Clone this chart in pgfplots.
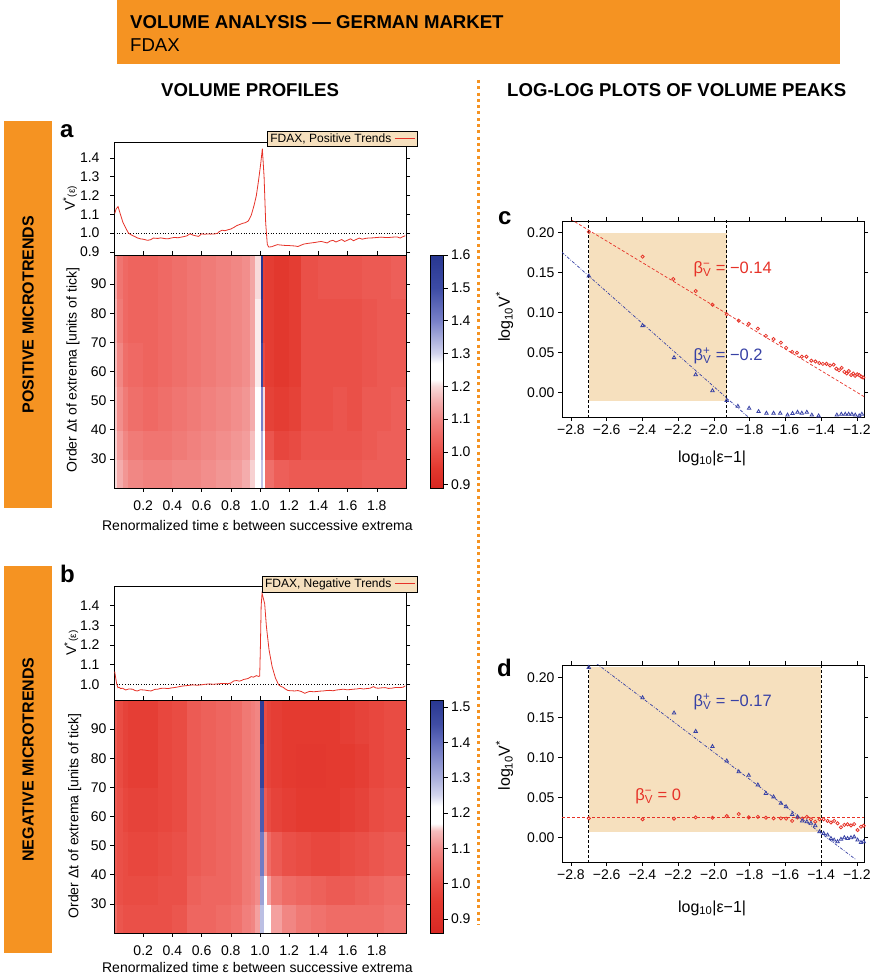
\documentclass[border=0pt]{standalone}
\usepackage{fontspec}
\setmainfont{Liberation Sans}
\usepackage{pgfplots}
\pgfplotsset{compat=1.18}

\definecolor{banner}{RGB}{245,147,34}
\definecolor{wheat}{RGB}{246,224,190}
\definecolor{lred}{RGB}{230,50,40}
\definecolor{lblue}{RGB}{55,65,165}

\newcommand\tkf{\fontsize{14}{14}\selectfont}
\newcommand\lbf{\fontsize{14}{14}\selectfont}
\newcommand\keybox[2]{\node[anchor=north east, fill=wheat, draw=black, line width=0.6pt,
  inner xsep=3pt, inner ysep=2.5pt, font=\fontsize{12}{12}\selectfont]
  at (axis description cs:1.041,#1) {#2\ \textcolor{lred}{\rule[0.28em]{20pt}{1.1pt}}};}

\pgfplotsset{
  /pgf/number format/assume math mode=true,
  every axis/.append style={scale only axis, tick align=outside, major tick length=4pt,
    tick style={black, line width=0.6pt}, axis line style={line width=0.7pt},
    tick label style={font=\tkf}, label style={font=\lbf}},
  dec1/.style={/pgf/number format/.cd, fixed, fixed zerofill, precision=1},
  dec2/.style={/pgf/number format/.cd, fixed, fixed zerofill, precision=2},
}

\begin{document}
\begin{tikzpicture}[x=1pt,y=1pt]
\path[use as bounding box] (0,0) rectangle (877,980);

% header
\fill[banner] (117,916) rectangle (840,980);
\node[anchor=base west, inner sep=0, font=\fontsize{18.6}{20}\selectfont\bfseries] at (130,951) {VOLUME ANALYSIS — GERMAN MARKET};
\node[anchor=base west, inner sep=0, font=\fontsize{18.6}{20}\selectfont] at (130,928) {FDAX};
\node[anchor=base west, inner sep=0, font=\fontsize{18.6}{20}\selectfont\bfseries] at (161,883) {VOLUME PROFILES};
\node[anchor=base west, inner sep=0, font=\fontsize{18.6}{20}\selectfont\bfseries] at (507,883) {LOG-LOG PLOTS OF VOLUME PEAKS};
\draw[banner, line width=3pt, dash pattern=on 3pt off 3.3pt] (478,900) -- (478,55);

% side bars
\fill[banner] (4,472) rectangle (52,859);
\fill[banner] (4,27) rectangle (52,414);
\node[rotate=90, font=\fontsize{16}{16}\selectfont\bfseries] at (28,665.5) {POSITIVE MICROTRENDS};
\node[rotate=90, font=\fontsize{16}{16}\selectfont\bfseries] at (28,220.5) {NEGATIVE MICROTRENDS};

% panel letters
\node[anchor=base west, inner sep=0, font=\fontsize{24}{24}\selectfont\bfseries] at (60,842) {a};
\node[anchor=base west, inner sep=0, font=\fontsize{24}{24}\selectfont\bfseries] at (60,397) {b};
\node[anchor=base west, inner sep=0, font=\fontsize{24}{24}\selectfont\bfseries] at (498,755) {c};
\node[anchor=base west, inner sep=0, font=\fontsize{24}{24}\selectfont\bfseries] at (497,303) {d};

% ---------- panel a: profile ----------
\begin{axis}[at={(114pt,725pt)}, anchor=south west, width=292pt, height=113pt,
  xmin=0, xmax=2, ymin=0.884, ymax=1.485, xtick=\empty, clip=false,
  ytick={0.9,1.0,1.1,1.2,1.3,1.4}, ytick pos=both, yticklabel pos=left,
  yticklabel style={xshift=-7pt, dec1},
  ylabel={V\textsuperscript{*}{\fontsize{10}{10}\selectfont(ε)}},
  ylabel style={at={(axis description cs:-0.151,0.5)}, anchor=center}]
\addplot[black, dotted, line width=0.7pt] coordinates {(0,1) (2,1)};
\addplot[lred, line width=0.8pt] coordinates {
(0.005,1.105) (0.015,1.13) (0.028,1.141) (0.04,1.11) (0.05,1.085) (0.06,1.06) (0.07,1.044)
(0.085,1.02) (0.1,1.0) (0.12,0.99) (0.14,0.983) (0.16,0.975) (0.18,0.97) (0.2,0.968)
(0.23,0.962) (0.25,0.965) (0.27,0.974) (0.3,0.972) (0.32,0.975) (0.35,0.971) (0.37,0.97)
(0.39,0.974) (0.41,0.977) (0.44,0.976) (0.46,0.979) (0.48,0.982) (0.5,0.986) (0.52,0.997)
(0.54,0.99) (0.56,0.986) (0.58,0.983) (0.6,0.997) (0.62,0.994) (0.64,0.996) (0.66,0.995)
(0.69,0.996) (0.71,1.0) (0.72,1.008) (0.74,1.016) (0.76,1.013) (0.78,1.018) (0.8,1.022)
(0.82,1.03) (0.84,1.04) (0.86,1.046) (0.88,1.052) (0.9,1.056) (0.92,1.065) (0.94,1.095)
(0.96,1.15) (0.975,1.2) (0.99,1.28) (1.005,1.37) (1.016,1.449) (1.028,1.30) (1.039,1.053)
(1.05,0.94) (1.06,0.926) (1.08,0.928) (1.1,0.934) (1.12,0.939) (1.14,0.937) (1.17,0.935)
(1.19,0.935) (1.215,0.933) (1.24,0.932) (1.26,0.929) (1.28,0.936) (1.3,0.942) (1.33,0.946)
(1.35,0.948) (1.38,0.951) (1.4,0.954) (1.42,0.956) (1.44,0.952) (1.46,0.948) (1.48,0.958)
(1.5,0.962) (1.52,0.953) (1.54,0.96) (1.56,0.966) (1.58,0.956) (1.6,0.963) (1.62,0.97)
(1.64,0.96) (1.66,0.967) (1.68,0.974) (1.7,0.968) (1.72,0.972) (1.74,0.974) (1.77,0.975)
(1.8,0.977) (1.83,0.979) (1.86,0.977) (1.88,0.977) (1.91,0.979) (1.94,0.98) (1.96,0.974)
(1.98,0.982) (1.995,0.986)};
\keybox{1.097}{FDAX, Positive Trends}
\end{axis}

% ---------- panel a: heat map ----------
\begin{axis}[at={(114pt,492pt)}, anchor=south west, width=292pt, height=233pt,
  xmin=0, xmax=2, ymin=20, ymax=100,
  xtick={0.2,0.4,0.6,0.8,1.0,1.2,1.4,1.6,1.8}, ytick={30,40,50,60,70,80,90},
  xticklabel style={yshift=-5pt, dec1}, axis on top,
  xlabel={Renormalized time ε between successive extrema},
  xlabel style={at={(axis description cs:0.491,-0.159)}, anchor=center},
  ylabel={Order Δt of extrema [units of tick]},
  ylabel style={at={(axis description cs:-0.140,0.506)}, anchor=center},
  colormap={cma}{rgb255(89pt)=(215,38,32) rgb255(95pt)=(226,56,46) rgb255(100pt)=(234,80,72)
    rgb255(105pt)=(239,105,100) rgb255(110pt)=(241,135,132) rgb255(115pt)=(244,172,172)
    rgb255(120pt)=(248,218,218) rgb255(122pt)=(255,255,255) rgb255(127pt)=(255,255,255)
    rgb255(130pt)=(210,212,238) rgb255(135pt)=(165,170,218) rgb255(140pt)=(120,128,200)
    rgb255(150pt)=(60,75,165) rgb255(160pt)=(40,55,145)},
  point meta min=0.89, point meta max=1.6,
  colorbar, colorbar style={at={(parent axis.north east)}, anchor=north west, xshift=16pt,
    width=13pt, ytick={0.9,1.0,1.1,1.2,1.3,1.4,1.5,1.6}, yticklabel style={dec1},
    tick align=outside, major tick length=4pt, ytick pos=right, yticklabel pos=right}]
\addplot[surf, shader=flat corner, mesh/cols=27, point meta=explicit] table[meta=c, row sep=\\] {
x y c\\
0 20 1.20\\ 0.02 20 1.15\\ 0.06 20 1.12\\ 0.1 20 1.10\\ 0.2 20 1.09\\ 0.3 20 1.09\\ 0.4 20 1.10\\ 0.5 20 1.10\\ 0.6 20 1.11\\ 0.7 20 1.12\\ 0.8 20 1.13\\ 0.88 20 1.15\\ 0.93 20 1.19\\ 0.97 20 1.24\\ 1.005 20 1.32\\ 1.025 20 1.27\\ 1.035 20 1.06\\ 1.1 20 1.03\\ 1.2 20 1.02\\ 1.28 20 1.02\\ 1.4 20 1.02\\ 1.5 20 1.02\\ 1.6 20 1.02\\ 1.7 20 1.03\\ 1.8 20 1.03\\ 1.9 20 1.03\\ 2.0 20 1.03\\
0 30 1.19\\ 0.02 30 1.13\\ 0.06 30 1.10\\ 0.1 30 1.08\\ 0.2 30 1.07\\ 0.3 30 1.07\\ 0.4 30 1.08\\ 0.5 30 1.09\\ 0.6 30 1.10\\ 0.7 30 1.11\\ 0.8 30 1.12\\ 0.88 30 1.13\\ 0.93 30 1.17\\ 0.97 30 1.23\\ 1.005 30 1.34\\ 1.025 30 1.26\\ 1.035 30 1.01\\ 1.1 30 0.98\\ 1.2 30 0.99\\ 1.28 30 1.01\\ 1.4 30 1.01\\ 1.5 30 1.01\\ 1.6 30 1.01\\ 1.7 30 1.02\\ 1.8 30 1.03\\ 1.9 30 1.03\\ 2.0 30 1.03\\
0 40 1.18\\ 0.02 40 1.11\\ 0.06 40 1.08\\ 0.1 40 1.06\\ 0.2 40 1.05\\ 0.3 40 1.06\\ 0.4 40 1.07\\ 0.5 40 1.08\\ 0.6 40 1.09\\ 0.7 40 1.10\\ 0.8 40 1.11\\ 0.88 40 1.12\\ 0.93 40 1.15\\ 0.97 40 1.22\\ 1.005 40 1.40\\ 1.025 40 1.20\\ 1.035 40 0.97\\ 1.1 40 0.96\\ 1.2 40 0.97\\ 1.28 40 1.00\\ 1.4 40 1.00\\ 1.5 40 1.01\\ 1.6 40 1.00\\ 1.7 40 1.02\\ 1.8 40 1.02\\ 1.9 40 1.03\\ 2.0 40 1.03\\
0 55 1.17\\ 0.02 55 1.10\\ 0.06 55 1.06\\ 0.1 55 1.05\\ 0.2 55 1.04\\ 0.3 55 1.05\\ 0.4 55 1.06\\ 0.5 55 1.07\\ 0.6 55 1.08\\ 0.7 55 1.09\\ 0.8 55 1.10\\ 0.88 55 1.11\\ 0.93 55 1.14\\ 0.97 55 1.21\\ 1.005 55 1.52\\ 1.025 55 0.99\\ 1.035 55 0.96\\ 1.1 55 0.95\\ 1.2 55 0.96\\ 1.28 55 1.00\\ 1.4 55 1.00\\ 1.5 55 1.00\\ 1.6 55 1.00\\ 1.7 55 1.01\\ 1.8 55 1.02\\ 1.9 55 1.02\\ 2.0 55 1.02\\
0 70 1.16\\ 0.02 70 1.08\\ 0.06 70 1.05\\ 0.1 70 1.04\\ 0.2 70 1.04\\ 0.3 70 1.05\\ 0.4 70 1.06\\ 0.5 70 1.07\\ 0.6 70 1.08\\ 0.7 70 1.09\\ 0.8 70 1.10\\ 0.88 70 1.11\\ 0.93 70 1.14\\ 0.97 70 1.21\\ 1.005 70 1.58\\ 1.025 70 0.97\\ 1.035 70 0.96\\ 1.1 70 0.95\\ 1.2 70 0.96\\ 1.28 70 1.00\\ 1.4 70 1.00\\ 1.5 70 1.00\\ 1.6 70 1.00\\ 1.7 70 1.01\\ 1.8 70 1.02\\ 1.9 70 1.02\\ 2.0 70 1.02\\
0 85 1.15\\ 0.02 85 1.07\\ 0.06 85 1.05\\ 0.1 85 1.04\\ 0.2 85 1.04\\ 0.3 85 1.05\\ 0.4 85 1.06\\ 0.5 85 1.07\\ 0.6 85 1.08\\ 0.7 85 1.09\\ 0.8 85 1.10\\ 0.88 85 1.11\\ 0.93 85 1.14\\ 0.97 85 1.20\\ 1.005 85 1.60\\ 1.025 85 0.97\\ 1.035 85 0.96\\ 1.1 85 0.95\\ 1.2 85 0.96\\ 1.28 85 1.00\\ 1.4 85 1.01\\ 1.5 85 1.01\\ 1.6 85 1.01\\ 1.7 85 1.02\\ 1.8 85 1.02\\ 1.9 85 1.03\\ 2.0 85 1.03\\
0 100 1.15\\ 0.02 100 1.07\\ 0.06 100 1.05\\ 0.1 100 1.04\\ 0.2 100 1.04\\ 0.3 100 1.05\\ 0.4 100 1.06\\ 0.5 100 1.07\\ 0.6 100 1.08\\ 0.7 100 1.09\\ 0.8 100 1.10\\ 0.88 100 1.11\\ 0.93 100 1.14\\ 0.97 100 1.20\\ 1.005 100 1.60\\ 1.025 100 0.97\\ 1.035 100 0.96\\ 1.1 100 0.95\\ 1.2 100 0.96\\ 1.28 100 1.00\\ 1.4 100 1.01\\ 1.5 100 1.01\\ 1.6 100 1.01\\ 1.7 100 1.02\\ 1.8 100 1.02\\ 1.9 100 1.03\\ 2.0 100 1.03\\
};
\end{axis}

% ---------- panel b: profile ----------
\begin{axis}[at={(114pt,280pt)}, anchor=south west, width=292pt, height=114pt,
  xmin=0, xmax=2, ymin=0.92, ymax=1.50, xtick=\empty, clip=false,
  ytick={1.0,1.1,1.2,1.3,1.4}, ytick pos=both, yticklabel pos=left,
  yticklabel style={xshift=-7pt, dec1},
  ylabel={V\textsuperscript{*}{\fontsize{10}{10}\selectfont(ε)}},
  ylabel style={at={(axis description cs:-0.147,0.5)}, anchor=center}]
\addplot[black, dotted, line width=0.7pt] coordinates {(0,1) (2,1)};
\addplot[lred, line width=0.8pt] coordinates {
(0.005,1.064) (0.012,1.03) (0.019,1.0) (0.027,0.982) (0.035,0.985) (0.045,0.978) (0.058,0.98)
(0.07,0.975) (0.08,0.971) (0.1,0.976) (0.127,0.975) (0.145,0.968) (0.16,0.966) (0.18,0.972)
(0.207,0.971) (0.23,0.968) (0.253,0.966) (0.28,0.974) (0.3,0.975) (0.32,0.979) (0.344,0.98)
(0.37,0.978) (0.39,0.981) (0.41,0.983) (0.436,0.986) (0.46,0.99) (0.482,0.992) (0.51,0.994)
(0.54,0.997) (0.57,0.995) (0.597,0.997) (0.625,1.0) (0.654,1.002) (0.68,1.0) (0.71,1.002)
(0.74,1.004) (0.78,1.003) (0.8,1.006) (0.82,1.017) (0.84,1.019) (0.86,1.016) (0.872,1.019)
(0.89,1.025) (0.906,1.027) (0.92,1.03) (0.94,1.039) (0.955,1.036) (0.975,1.044) (0.99,1.04)
(0.998,1.042) (1.003,1.2) (1.008,1.40) (1.014,1.463) (1.022,1.44) (1.032,1.41) (1.044,1.293)
(1.062,1.175) (1.083,1.09) (1.106,1.031) (1.128,0.997) (1.145,0.988) (1.158,0.985) (1.175,0.975)
(1.193,0.968) (1.215,0.967) (1.238,0.966) (1.26,0.968) (1.284,0.963) (1.307,0.954) (1.325,0.96)
(1.342,0.964) (1.365,0.962) (1.387,0.963) (1.41,0.965) (1.433,0.966) (1.455,0.968) (1.479,0.969)
(1.5,0.967) (1.525,0.971) (1.55,0.973) (1.571,0.975) (1.595,0.972) (1.617,0.973) (1.64,0.975)
(1.662,0.976) (1.685,0.979) (1.708,0.976) (1.73,0.978) (1.754,0.98) (1.777,0.988) (1.795,0.981)
(1.811,0.98) (1.835,0.982) (1.857,0.983) (1.88,0.979) (1.903,0.98) (1.93,0.984) (1.96,0.983)
(1.98,0.985) (1.995,0.992)};
\keybox{1.092}{FDAX, Negative Trends}
\end{axis}

% ---------- panel b: heat map ----------
\begin{axis}[at={(114pt,47pt)}, anchor=south west, width=292pt, height=233pt,
  xmin=0, xmax=2, ymin=20, ymax=100,
  xtick={0.2,0.4,0.6,0.8,1.0,1.2,1.4,1.6,1.8}, ytick={30,40,50,60,70,80,90},
  xticklabel style={yshift=-5pt, dec1}, axis on top,
  xlabel={Renormalized time ε between successive extrema},
  xlabel style={at={(axis description cs:0.491,-0.146)}, anchor=center},
  ylabel={Order Δt of extrema [units of tick]},
  ylabel style={at={(axis description cs:-0.134,0.502)}, anchor=center},
  colormap={cmb}{rgb255(86pt)=(215,40,35) rgb255(95pt)=(228,58,48) rgb255(100pt)=(234,80,72)
    rgb255(105pt)=(239,108,102) rgb255(110pt)=(242,140,138) rgb255(115pt)=(246,190,190)
    rgb255(117pt)=(255,255,255) rgb255(122pt)=(255,255,255) rgb255(125pt)=(212,214,238)
    rgb255(130pt)=(170,175,220) rgb255(140pt)=(100,110,190) rgb255(145pt)=(65,78,165)
    rgb255(152pt)=(40,55,145)},
  point meta min=0.86, point meta max=1.52,
  colorbar, colorbar style={at={(parent axis.north east)}, anchor=north west, xshift=16pt,
    width=13pt, ytick={0.9,1.0,1.1,1.2,1.3,1.4,1.5}, yticklabel style={dec1},
    tick align=outside, major tick length=4pt, ytick pos=right, yticklabel pos=right}]
\addplot[surf, shader=flat corner, mesh/cols=27, point meta=explicit] table[meta=c, row sep=\\] {
x y c\\
0 20 1.05\\ 0.02 20 1.01\\ 0.06 20 1.00\\ 0.1 20 1.00\\ 0.2 20 1.00\\ 0.3 20 1.00\\ 0.4 20 1.01\\ 0.5 20 1.04\\ 0.6 20 1.04\\ 0.7 20 1.05\\ 0.8 20 1.06\\ 0.88 20 1.08\\ 0.94 20 1.09\\ 0.966 20 1.12\\ 1.0 20 1.28\\ 1.027 20 1.20\\ 1.05 20 1.17\\ 1.08 20 1.12\\ 1.15 20 1.09\\ 1.25 20 1.07\\ 1.35 20 1.06\\ 1.45 20 1.05\\ 1.55 20 1.05\\ 1.65 20 1.05\\ 1.75 20 1.05\\ 1.85 20 1.06\\ 2.0 20 1.06\\
0 30 1.03\\ 0.02 30 1.00\\ 0.06 30 0.99\\ 0.1 30 0.99\\ 0.2 30 0.99\\ 0.3 30 1.00\\ 0.4 30 1.00\\ 0.5 30 1.03\\ 0.6 30 1.04\\ 0.7 30 1.04\\ 0.8 30 1.05\\ 0.88 30 1.07\\ 0.94 30 1.08\\ 0.966 30 1.10\\ 1.0 30 1.32\\ 1.027 30 1.19\\ 1.05 30 1.12\\ 1.08 30 1.07\\ 1.15 30 1.05\\ 1.25 30 1.04\\ 1.35 30 1.03\\ 1.45 30 1.02\\ 1.55 30 1.02\\ 1.65 30 1.03\\ 1.75 30 1.04\\ 1.85 30 1.05\\ 2.0 30 1.05\\
0 40 1.02\\ 0.02 40 1.00\\ 0.06 40 0.99\\ 0.1 40 0.98\\ 0.2 40 0.98\\ 0.3 40 0.99\\ 0.4 40 1.00\\ 0.5 40 1.02\\ 0.6 40 1.03\\ 0.7 40 1.04\\ 0.8 40 1.05\\ 0.88 40 1.07\\ 0.94 40 1.08\\ 0.966 40 1.09\\ 1.0 40 1.38\\ 1.027 40 1.12\\ 1.05 40 1.05\\ 1.08 40 1.02\\ 1.15 40 1.00\\ 1.25 40 0.99\\ 1.35 40 0.98\\ 1.45 40 0.98\\ 1.55 40 0.99\\ 1.65 40 1.00\\ 1.75 40 1.01\\ 1.85 40 1.02\\ 2.0 40 1.02\\
0 55 1.02\\ 0.02 55 1.00\\ 0.06 55 0.98\\ 0.1 55 0.97\\ 0.2 55 0.97\\ 0.3 55 0.98\\ 0.4 55 0.99\\ 0.5 55 1.02\\ 0.6 55 1.03\\ 0.7 55 1.04\\ 0.8 55 1.05\\ 0.88 55 1.07\\ 0.94 55 1.08\\ 0.966 55 1.09\\ 1.0 55 1.43\\ 1.027 55 1.02\\ 1.05 55 0.99\\ 1.08 55 0.97\\ 1.15 55 0.96\\ 1.25 55 0.95\\ 1.35 55 0.95\\ 1.45 55 0.95\\ 1.55 55 0.96\\ 1.65 55 0.97\\ 1.75 55 0.99\\ 1.85 55 1.00\\ 2.0 55 1.00\\
0 70 1.02\\ 0.02 70 0.99\\ 0.06 70 0.97\\ 0.1 70 0.96\\ 0.2 70 0.96\\ 0.3 70 0.98\\ 0.4 70 0.99\\ 0.5 70 1.02\\ 0.6 70 1.03\\ 0.7 70 1.04\\ 0.8 70 1.05\\ 0.88 70 1.07\\ 0.94 70 1.08\\ 0.966 70 1.09\\ 1.0 70 1.48\\ 1.027 70 0.99\\ 1.05 70 0.97\\ 1.08 70 0.96\\ 1.15 70 0.95\\ 1.25 70 0.94\\ 1.35 70 0.94\\ 1.45 70 0.95\\ 1.55 70 0.95\\ 1.65 70 0.96\\ 1.75 70 0.98\\ 1.85 70 0.99\\ 2.0 70 0.99\\
0 85 1.02\\ 0.02 85 0.99\\ 0.06 85 0.97\\ 0.1 85 0.96\\ 0.2 85 0.96\\ 0.3 85 0.98\\ 0.4 85 0.99\\ 0.5 85 1.02\\ 0.6 85 1.03\\ 0.7 85 1.04\\ 0.8 85 1.05\\ 0.88 85 1.07\\ 0.94 85 1.08\\ 0.966 85 1.09\\ 1.0 85 1.50\\ 1.027 85 0.99\\ 1.05 85 0.97\\ 1.08 85 0.96\\ 1.15 85 0.95\\ 1.25 85 0.95\\ 1.35 85 0.95\\ 1.45 85 0.95\\ 1.55 85 0.96\\ 1.65 85 0.97\\ 1.75 85 0.98\\ 1.85 85 0.99\\ 2.0 85 0.99\\
0 100 1.02\\ 0.02 100 0.99\\ 0.06 100 0.97\\ 0.1 100 0.96\\ 0.2 100 0.96\\ 0.3 100 0.98\\ 0.4 100 0.99\\ 0.5 100 1.02\\ 0.6 100 1.03\\ 0.7 100 1.04\\ 0.8 100 1.05\\ 0.88 100 1.07\\ 0.94 100 1.08\\ 0.966 100 1.09\\ 1.0 100 1.50\\ 1.027 100 0.99\\ 1.05 100 0.97\\ 1.08 100 0.96\\ 1.15 100 0.95\\ 1.25 100 0.95\\ 1.35 100 0.95\\ 1.45 100 0.95\\ 1.55 100 0.96\\ 1.65 100 0.97\\ 1.75 100 0.98\\ 1.85 100 0.99\\ 2.0 100 0.99\\
};
\end{axis}

% ---------- panel c ----------
\begin{axis}[at={(562pt,563pt)}, anchor=south west, width=302pt, height=196pt,
  xmin=-2.85, xmax=-1.16, ymin=-0.0304, ymax=0.2146,
  xtick={-2.8,-2.6,-2.4,-2.2,-2.0,-1.8,-1.6,-1.4,-1.2},
  xticklabels={−2.8,−2.6,−2.4,−2.2,−2.0,−1.8,−1.6,−1.4,−1.2},
  ytick={0,0.05,0.1,0.15,0.2}, yticklabel style={dec2},
  label style={font=\fontsize{16}{16}\selectfont},
  xlabel={log\textsubscript{10}|ε−1|},
  xlabel style={at={(axis description cs:0.497,-0.209)}, anchor=center},
  ylabel={log\textsubscript{10}V\textsuperscript{*}},
  ylabel style={at={(axis description cs:-0.190,0.51)}, anchor=center}]
\addplot[fill=wheat, draw=none] coordinates {(-2.7,-0.01) (-1.928,-0.01) (-1.928,0.2) (-2.7,0.2)} -- cycle;
\addplot[lred, line width=0.7pt, dash pattern=on 3pt off 2pt] coordinates {(-2.85,0.2233) (-1.16,-0.0049)};
\addplot[lblue, line width=0.7pt, dash pattern=on 3pt off 1.5pt on 0.8pt off 1.5pt] coordinates {(-2.85,0.1754) (-1.80,-0.0320)};
\addplot[black, line width=0.7pt, dash pattern=on 3pt off 2pt] coordinates {(-2.7,-0.05) (-2.7,0.25)};
\addplot[black, line width=0.7pt, dash pattern=on 3pt off 2pt] coordinates {(-1.928,-0.05) (-1.928,0.25)};
\addplot[only marks, mark=o, mark size=1.6pt, lred, line width=0.8pt] coordinates {
(-2.700,0.201) (-2.399,0.170) (-2.227,0.142) (-2.102,0.127) (-2.008,0.110) (-1.928,0.098)
(-1.861,0.090) (-1.805,0.086) (-1.754,0.080) (-1.709,0.071) (-1.666,0.067) (-1.625,0.0625)
(-1.596,0.056) (-1.562,0.051) (-1.535,0.050) (-1.508,0.045) (-1.482,0.045) (-1.455,0.040)
(-1.432,0.039) (-1.41,0.037) (-1.39,0.036) (-1.37,0.036) (-1.35,0.034) (-1.33,0.035)
(-1.315,0.030) (-1.30,0.028) (-1.285,0.031) (-1.27,0.026) (-1.257,0.024) (-1.245,0.027)
(-1.232,0.022) (-1.22,0.024) (-1.21,0.021) (-1.198,0.023) (-1.187,0.022) (-1.175,0.020) (-1.165,0.019)};
\addplot[only marks, mark=triangle, mark size=2pt, lblue, line width=0.8pt] coordinates {
(-2.700,0.1458) (-2.399,0.0838) (-2.223,0.0438) (-2.102,0.0225) (-2.008,0.0025) (-1.928,-0.0096)
(-1.866,-0.017) (-1.803,-0.0195) (-1.75,-0.0236) (-1.706,-0.0257) (-1.666,-0.0257) (-1.629,-0.0257)
(-1.588,-0.028) (-1.56,-0.026) (-1.532,-0.0245) (-1.508,-0.0257) (-1.48,-0.0245) (-1.452,-0.028)
(-1.414,-0.029) (-1.312,-0.028) (-1.287,-0.027) (-1.265,-0.027) (-1.246,-0.027) (-1.228,-0.027)
(-1.209,-0.028) (-1.187,-0.029) (-1.172,-0.027)};
\node[anchor=west, text=lred, font=\fontsize{16.5}{16.5}\selectfont, inner sep=0] at (axis cs:-2.115,0.154)
  {β\rlap{\textsuperscript{−}}\textsubscript{V} = −0.14};
\node[anchor=west, text=lblue, font=\fontsize{16.5}{16.5}\selectfont, inner sep=0] at (axis cs:-2.115,0.046)
  {β\rlap{\textsuperscript{+}}\textsubscript{V} = −0.2};
\end{axis}

% ---------- panel d ----------
\begin{axis}[at={(562pt,118pt)}, anchor=south west, width=302pt, height=197pt,
  xmin=-2.85, xmax=-1.16, ymin=-0.0304, ymax=0.216,
  xtick={-2.8,-2.6,-2.4,-2.2,-2.0,-1.8,-1.6,-1.4,-1.2},
  xticklabels={−2.8,−2.6,−2.4,−2.2,−2.0,−1.8,−1.6,−1.4,−1.2},
  ytick={0,0.05,0.1,0.15,0.2}, yticklabel style={dec2},
  label style={font=\fontsize{16}{16}\selectfont},
  xlabel={log\textsubscript{10}|ε−1|},
  xlabel style={at={(axis description cs:0.497,-0.233)}, anchor=center},
  ylabel={log\textsubscript{10}V\textsuperscript{*}},
  ylabel style={at={(axis description cs:-0.190,0.49)}, anchor=center}]
\addplot[fill=wheat, draw=none] coordinates {(-2.7,0.0075) (-1.4,0.0075) (-1.4,0.213) (-2.7,0.213)} -- cycle;
\addplot[lred, line width=0.7pt, dash pattern=on 3pt off 2pt] coordinates {(-2.85,0.025) (-1.16,0.025)};
\addplot[lblue, line width=0.7pt, dash pattern=on 3pt off 1.5pt on 0.8pt off 1.5pt] coordinates {(-2.72,0.2285) (-1.203,-0.0278)};
\addplot[black, line width=0.7pt, dash pattern=on 3pt off 2pt] coordinates {(-2.7,-0.05) (-2.7,0.25)};
\addplot[black, line width=0.7pt, dash pattern=on 3pt off 2pt] coordinates {(-1.4,-0.05) (-1.4,0.25)};
\addplot[only marks, mark=o, mark size=1.6pt, lred, line width=0.8pt] coordinates {
(-2.700,0.0242) (-2.399,0.023) (-2.223,0.0238) (-2.102,0.0254) (-2.008,0.025) (-1.928,0.027)
(-1.861,0.0296) (-1.805,0.0254) (-1.754,0.026) (-1.709,0.025) (-1.666,0.0242) (-1.625,0.0242)
(-1.596,0.0238) (-1.562,0.021) (-1.532,0.0254) (-1.506,0.024) (-1.48,0.026) (-1.457,0.023)
(-1.433,0.020) (-1.409,0.023) (-1.386,0.023) (-1.364,0.021) (-1.345,0.019) (-1.327,0.021)
(-1.308,0.018) (-1.289,0.013) (-1.27,0.016) (-1.252,0.0167) (-1.233,0.0154) (-1.215,0.017)
(-1.196,0.0096) (-1.177,0.0137) (-1.162,0.015)};
\addplot[only marks, mark=triangle, mark size=2pt, lblue, line width=0.8pt] coordinates {
(-2.700,0.213) (-2.399,0.175) (-2.223,0.156) (-2.102,0.133) (-2.008,0.114) (-1.928,0.096)
(-1.861,0.0825) (-1.805,0.078) (-1.754,0.066) (-1.709,0.0554) (-1.666,0.051) (-1.625,0.043)
(-1.596,0.0388) (-1.562,0.029) (-1.532,0.026) (-1.506,0.021) (-1.48,0.020) (-1.457,0.018)
(-1.433,0.015) (-1.409,0.0075) (-1.386,0.0054) (-1.364,0.0033) (-1.345,-0.001) (-1.327,-0.003)
(-1.308,-0.005) (-1.289,-0.002) (-1.27,0.0) (-1.252,-0.001) (-1.233,0.0) (-1.215,0.001)
(-1.196,-0.003) (-1.177,-0.006) (-1.162,-0.005)};
\node[anchor=west, text=lblue, font=\fontsize{16.5}{16.5}\selectfont, inner sep=0] at (axis cs:-2.115,0.17)
  {β\rlap{\textsuperscript{+}}\textsubscript{V} = −0.17};
\node[anchor=west, text=lred, font=\fontsize{16.5}{16.5}\selectfont, inner sep=0] at (axis cs:-2.441,0.0513)
  {β\rlap{\textsuperscript{−}}\textsubscript{V} = 0};
\end{axis}
\end{tikzpicture}
\end{document}
